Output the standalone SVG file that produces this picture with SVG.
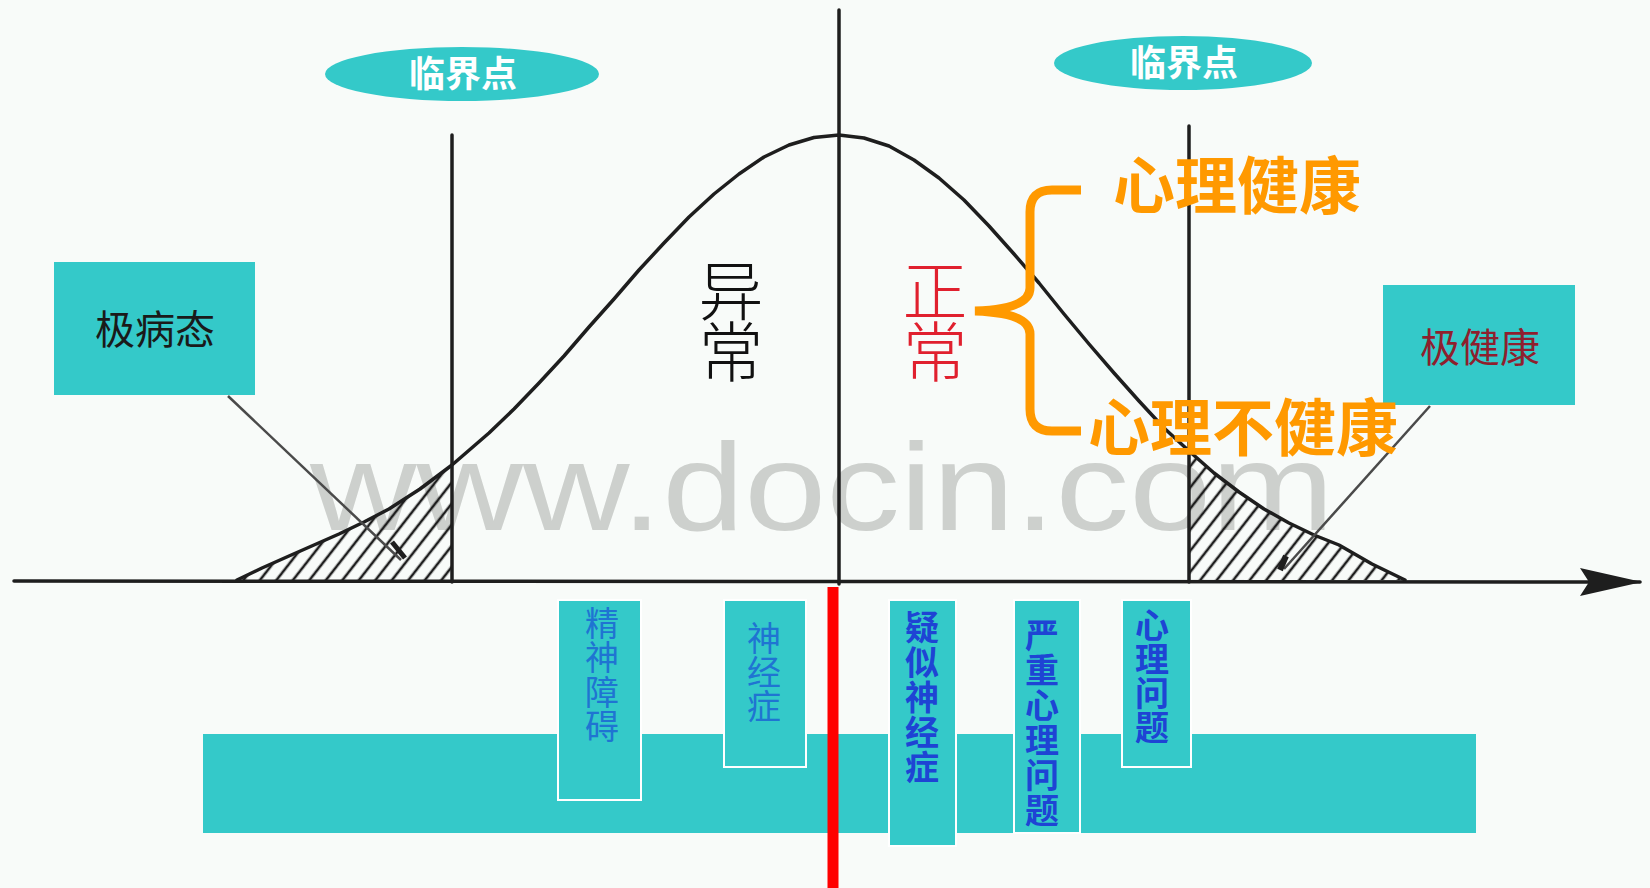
<svg xmlns="http://www.w3.org/2000/svg" width="1650" height="888" viewBox="0 0 1650 888">
<defs>
<style>
.cjk{font-family:"Noto Sans CJK SC","Noto Sans CJK TC",sans-serif}
.teal{fill:#34C9C9}
.lbl{fill:#34C9C9;stroke:#ffffff;stroke-width:2}
.vt{font-family:"Noto Sans CJK SC",sans-serif;font-size:34px;text-anchor:middle}
.ax{stroke:#1e1e1e;fill:none;stroke-width:3.5;stroke-linecap:round;stroke-linejoin:round}
.ptr{stroke:#4a4a4a;stroke-width:2.5;fill:none}
.crit{fill:#ffffff;font-size:36px;text-anchor:middle;font-weight:bold}
.big{font-size:65px;text-anchor:middle;font-weight:300}
.or{fill:#FF9900;font-size:62px;font-weight:bold}
</style>
<pattern id="hatch" patternUnits="userSpaceOnUse" width="13" height="13" patternTransform="rotate(38)">
<line x1="3" y1="0" x2="3" y2="13" stroke="#1e1e1e" stroke-width="2.6"/>
</pattern>
<clipPath id="clipL"><polygon points="237,580 262,568 289,556 314,545 339,534 364,522 389,509 420,489 452,465 452,580"/></clipPath>
<clipPath id="clipR"><polygon points="1189,451 1214,473 1239,492 1264,509 1289,523 1314,535 1339,545 1372,564 1405,580 1189,580"/></clipPath>
<marker id="arr" markerWidth="62" markerHeight="34" refX="60" refY="17" orient="auto" markerUnits="userSpaceOnUse">
<path d="M0,3 L62,17 L0,31 L9,17 Z" fill="#1e1e1e"/>
</marker>
</defs>
<rect x="0" y="0" width="1650" height="888" fill="#f8fbf9"/>

<text id="watermark" x="310" y="530" font-family="Liberation Sans,Arial,sans-serif" font-size="125" fill="#cdd0cd" textLength="1024" lengthAdjust="spacingAndGlyphs">www.docin.com</text>

<g id="bottom-bar"><rect class="teal" x="203" y="734" width="1273" height="99"/></g>

<g id="hatching">
<rect x="230" y="450" width="230" height="135" fill="url(#hatch)" clip-path="url(#clipL)"/>
<rect x="1185" y="440" width="225" height="145" fill="url(#hatch)" clip-path="url(#clipR)"/>
</g>

<g id="connectors">
<polyline class="ax" points="237,580 262,568 289,556 314,545 339,534 364,522 389,509 420,489 452,465 489,433 514,409 539,383 564,356 589,327 614,299 639,270 664,243 689,217 714,194 739,174 764,157 789,145 814,137.5 839,135 864,138 889,146 914,160 939,178 964,200 989,226 1014,254 1039,283 1064,314 1089,344 1114,373 1139,401 1164,428 1189,451 1214,473 1239,492 1264,509 1289,523 1314,535 1339,545 1372,564 1405,580"/>
<line class="ax" x1="14" y1="581" x2="1640" y2="582" stroke-width="4" marker-end="url(#arr)"/>
<line class="ax" x1="839" y1="10" x2="839" y2="584"/>
<line class="ax" x1="452" y1="135" x2="452" y2="582"/>
<line class="ax" x1="1189" y1="126" x2="1189" y2="582"/>
<line class="ptr" x1="228" y1="396" x2="401" y2="560"/>
<line stroke="#1e1e1e" stroke-width="5" x1="392" y1="542" x2="405" y2="558"/>
<line class="ptr" x1="1430" y1="406" x2="1284" y2="569"/>
<line stroke="#1e1e1e" stroke-width="6" x1="1286" y1="556" x2="1280" y2="570"/>
<line stroke="#ff0000" stroke-width="11" x1="833" y1="587" x2="833" y2="888"/>
</g>

<g id="crit-left"><ellipse class="teal" cx="462" cy="74" rx="137" ry="27"/><text class="cjk crit" x="463" y="87">临界点</text></g>
<g id="crit-right"><ellipse class="teal" cx="1183" cy="63" rx="129" ry="27"/><text class="cjk crit" x="1184" y="76">临界点</text></g>

<g id="extreme-ill"><rect class="teal" x="54" y="262" width="201" height="133"/><text class="cjk" x="155" y="344" font-size="40" fill="#1a1a1a" text-anchor="middle">极病态</text></g>
<g id="extreme-healthy"><rect class="teal" x="1383" y="285" width="192" height="120"/><text class="cjk" x="1480" y="362" font-size="40" fill="#8e1f2e" text-anchor="middle">极健康</text></g>

<g id="abnormal"><text class="cjk big" x="731" y="315" fill="#111">异</text><text class="cjk big" x="731" y="376" fill="#111">常</text></g>
<g id="normal"><text class="cjk big" x="935" y="315" fill="#e0202e">正</text><text class="cjk big" x="935" y="376" fill="#e0202e">常</text></g>

<g id="brace"><path d="M1081,190 L1052,190 Q1030,190 1030,212 L1030,288 Q1030,309 975,311 Q1030,313 1030,334 L1030,409 Q1030,431 1052,431 L1081,431" fill="none" stroke="#FF9900" stroke-width="9"/></g>
<g id="healthy"><text class="cjk or" x="1113" y="209">心理健康</text></g>
<g id="unhealthy"><text class="cjk or" x="1088" y="451">心理不健康</text></g>

<g id="box-jingshenzhangai"><rect class="lbl" x="558" y="600" width="83" height="200"/>
<text class="vt" fill="#1f74d2"><tspan x="602" y="636">精</tspan><tspan x="602" y="670">神</tspan><tspan x="602" y="705">障</tspan><tspan x="602" y="739">碍</tspan></text></g>
<g id="box-shenjingzheng"><rect class="lbl" x="724" y="600" width="82" height="167"/>
<text class="vt" fill="#1f74d2"><tspan x="764" y="651">神</tspan><tspan x="764" y="685">经</tspan><tspan x="764" y="719">症</tspan></text></g>
<g id="box-yisi"><rect class="lbl" x="889" y="600" width="67" height="246"/>
<text class="vt" fill="#1e44d4" font-weight="bold"><tspan x="922" y="640">疑</tspan><tspan x="922" y="675">似</tspan><tspan x="922" y="710">神</tspan><tspan x="922" y="745">经</tspan><tspan x="922" y="780">症</tspan></text></g>
<g id="box-yanzhong"><rect class="lbl" x="1014" y="600" width="66" height="233"/>
<text class="vt" fill="#1e44d4" font-weight="bold"><tspan x="1042" y="648">严</tspan><tspan x="1042" y="683">重</tspan><tspan x="1042" y="718">心</tspan><tspan x="1042" y="753">理</tspan><tspan x="1042" y="788">问</tspan><tspan x="1042" y="823">题</tspan></text></g>
<g id="box-xinliwenti"><rect class="lbl" x="1122" y="600" width="69" height="167"/>
<text class="vt" fill="#1e44d4" font-weight="bold"><tspan x="1152" y="638">心</tspan><tspan x="1152" y="672">理</tspan><tspan x="1152" y="706">问</tspan><tspan x="1152" y="740">题</tspan></text></g>
</svg>
